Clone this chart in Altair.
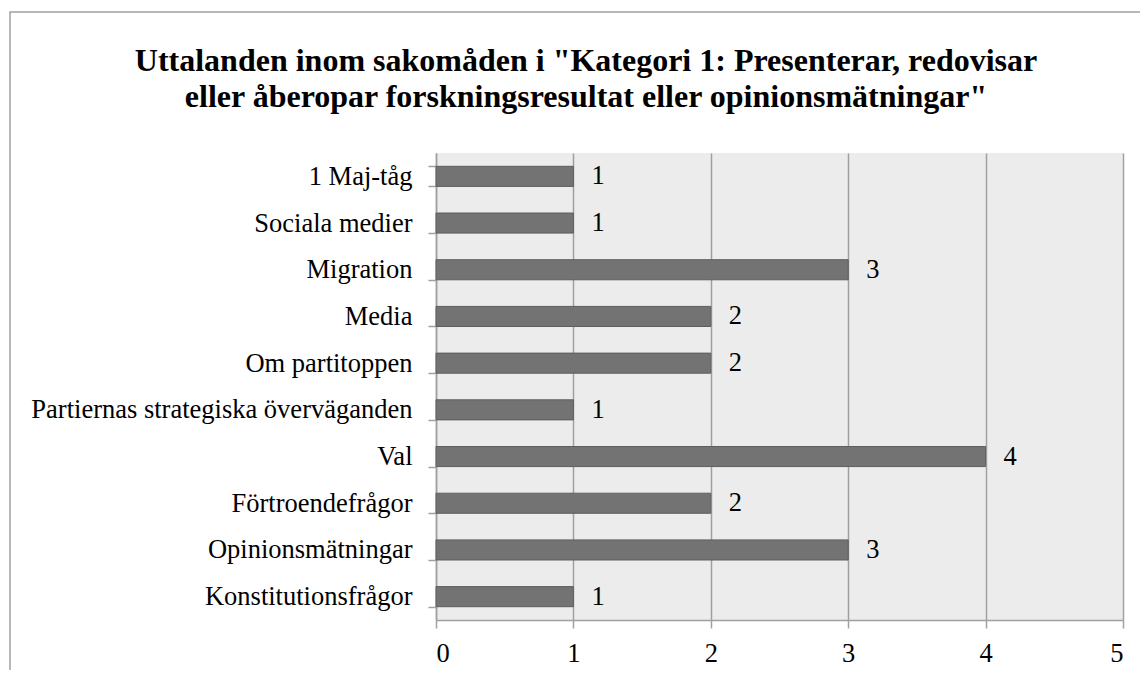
import altair as alt
import pandas as pd

categories = [
    "1 Maj-tåg",
    "Sociala medier",
    "Migration",
    "Media",
    "Om partitoppen",
    "Partiernas strategiska överväganden",
    "Val",
    "Förtroendefrågor",
    "Opinionsmätningar",
    "Konstitutionsfrågor",
]
values = [1, 1, 3, 2, 2, 1, 4, 2, 3, 1]
x_ticks = [0, 1, 2, 3, 4, 5]
title_lines = [
    'Uttalanden inom sakomåden i "Kategori 1: Presenterar, redovisar',
    'eller åberopar forskningsresultat eller opinionsmätningar"',
]

df = pd.DataFrame({"kategori": categories, "antal": values})

FONT = "Liberation Serif"
W, H = 687, 467
LS = 26.5

y_enc = alt.Y(
    "kategori:N",
    sort=categories,
    title=None,
    scale=alt.Scale(paddingInner=0.57, paddingOuter=0.285),
    axis=alt.Axis(
        tickBand="extent",
        tickSize=8,
        tickColor="#a0a0a0",
        tickWidth=1.5,
        domainColor="#a0a0a0",
        domainWidth=1.5,
        labelFont=FONT,
        labelFontSize=LS,
        labelColor="#000000",
        labelPadding=16,
        labelLimit=600,
        grid=False,
    ),
)
x_enc = alt.X(
    "antal:Q",
    title=None,
    scale=alt.Scale(domain=[0, 5], nice=False),
    axis=alt.Axis(
        values=x_ticks,
        format="d",
        tickSize=8,
        tickColor="#a0a0a0",
        tickWidth=1.5,
        domainColor="#a0a0a0",
        domainWidth=1.5,
        gridColor="#a0a0a0",
        gridWidth=1.5,
        labelFont=FONT,
        labelFontSize=LS,
        labelColor="#000000",
        labelPadding=12,
    ),
)

one = pd.DataFrame({"f": [0]})

frame = alt.Chart(one).mark_rect(
    filled=False, fillOpacity=0, stroke="#a0a0a0", strokeWidth=1.5
).encode(
    x=alt.value(-426), x2=alt.value(W + 200),
    y=alt.value(-141), y2=alt.value(H + 200),
)

title = alt.Chart(one).mark_text(
    text=title_lines,
    font=FONT,
    fontSize=32,
    fontWeight="bold",
    color="#000000",
    align="center",
    baseline="alphabetic",
    lineHeight=36,
).encode(x=alt.value(150), y=alt.value(-82))

bars = alt.Chart(df).mark_bar(
    color="#737373", stroke="#5e5e5e", strokeWidth=1
).encode(x=x_enc, y=y_enc)

labels = alt.Chart(df).mark_text(
    align="left", baseline="middle", dx=18, font=FONT, fontSize=LS, color="#000000"
).encode(x="antal:Q", y=alt.Y("kategori:N", sort=categories), text="antal:Q")

chart = (
    alt.layer(frame, title, bars, labels)
    .properties(
        width=W,
        height=H,
        autosize=alt.AutoSizeParams(type="none"),
        padding={"left": 428, "top": 145, "right": 17, "bottom": 50},
        background="#ffffff",
    )
    .configure_view(fill="#ececec", stroke=None)
)

chart.save("out.html", embed_options={"renderer": "svg", "actions": False})
